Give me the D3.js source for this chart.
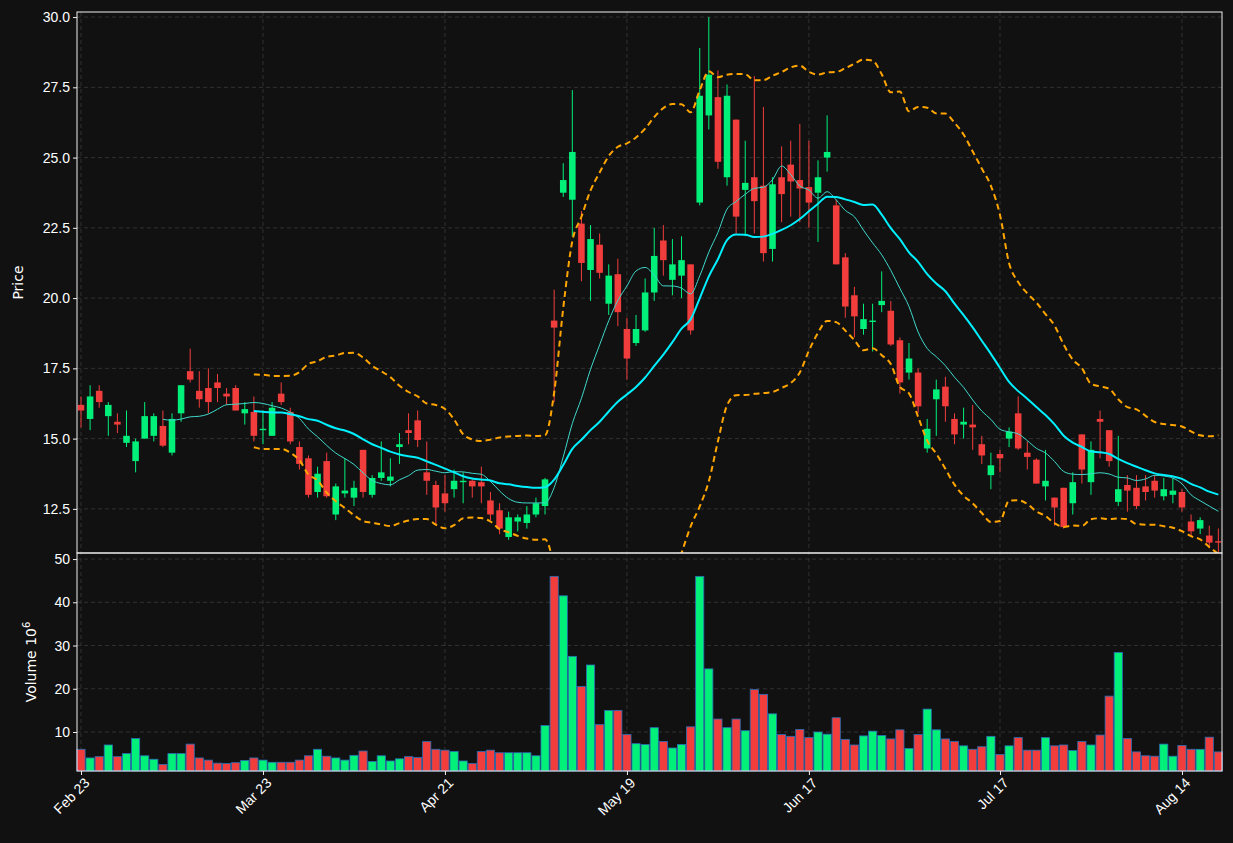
<!DOCTYPE html>
<html><head><meta charset="utf-8">
<script src="https://cdn.jsdelivr.net/npm/d3@7"></script>
<style>body{margin:0;background:#111111;}svg{font-family:"DejaVu Sans",sans-serif;}</style>
</head><body><div id="chart"></div>
<script>
// OHLC, one entry per trading day
const opens=[16.2,15.7,16.7,15.8,15.6,14.85,14.2,15.0,15.1,15.45,14.5,15.9,17.4,16.7,16.8,17.0,16.6,16.8,15.9,15.95,
 15.3,15.1,16.6,15.95,14.7,14.3,13.1,14.2,12.3,13.05,12.9,14.6,13.0,13.6,13.5,14.7,15.3,15.65,13.8,13.35,
 13.05,13.2,13.45,13.5,13.45,12.8,12.45,11.5,12.05,12.0,12.3,12.6,19.2,23.75,23.5,22.65,21.0,21.9,19.8,20.85,
 18.9,18.4,18.85,20.2,22.05,20.65,20.8,21.2,23.4,26.5,27.15,24.3,26.35,23.85,24.3,24.0,21.75,24.3,24.75,24.2,
 23.95,23.75,25.0,23.3,21.45,20.1,18.9,19.15,19.75,19.55,18.5,17.35,17.35,14.65,16.4,16.85,15.7,15.5,15.5,14.8,
 13.7,14.45,15.0,15.9,14.5,14.25,13.3,12.9,13.25,12.7,15.15,13.45,15.7,15.3,12.75,13.35,13.25,13.3,13.5,12.95,
 13.0,13.1,12.05,11.8,11.55,11.35];
const highs=[16.5,16.9,16.9,16.3,15.9,16.0,15.0,16.3,15.9,16.0,15.9,16.9,18.2,17.4,17.5,17.3,16.8,16.9,16.3,16.5,
 16.0,16.3,17.0,16.1,14.9,14.4,14.0,14.5,13.4,14.3,13.5,14.6,13.7,14.9,14.3,15.2,15.9,16.0,14.9,13.5,
 13.7,13.9,13.8,13.6,14.0,13.1,12.7,12.4,12.3,12.6,12.9,13.6,20.3,24.8,27.4,23.1,22.6,22.3,21.2,21.4,
 19.3,19.4,20.7,22.5,22.6,22.1,22.2,21.2,28.9,30.0,28.1,27.6,26.35,25.6,27.9,26.8,24.3,25.4,25.6,26.2,
 25.6,24.9,26.5,23.5,21.6,20.4,19.8,19.8,20.95,19.9,18.6,18.4,17.5,15.7,17.1,17.2,15.9,16.1,16.2,15.1,
 14.5,14.6,15.4,16.5,14.9,14.3,14.6,12.9,13.25,13.8,15.15,14.9,16.0,15.3,15.1,13.7,13.7,13.7,13.7,13.6,
 13.6,13.2,12.3,12.2,11.9,11.8];
const lows=[15.4,15.3,16.1,15.1,15.2,14.7,13.8,15.0,14.9,14.7,14.4,15.6,17.0,16.1,15.9,16.3,16.2,16.0,15.5,14.9,
 14.8,15.1,16.2,14.8,13.9,12.9,12.9,12.9,12.1,12.9,12.6,12.9,12.9,13.5,13.3,14.1,14.8,14.7,13.0,11.9,
 12.4,12.9,12.7,12.9,12.7,12.1,11.6,11.4,11.7,11.8,12.2,12.3,16.3,23.6,22.2,20.6,19.9,20.7,19.4,19.0,
 17.1,18.3,18.8,19.9,20.8,20.1,20.0,18.7,23.3,26.0,24.6,24.0,22.3,22.2,22.3,21.3,21.3,22.7,22.9,22.7,
 22.5,22.0,24.5,21.2,19.3,18.6,18.7,18.1,19.5,18.3,16.6,17.1,15.9,14.5,15.1,15.6,14.8,15.0,14.6,14.1,
 13.2,13.8,14.7,14.6,13.9,13.4,12.8,11.9,11.8,12.3,13.4,13.0,14.3,14.0,12.6,12.4,12.5,12.8,12.9,12.8,
 12.7,12.4,11.5,11.6,11.1,10.9];
const closes=[16.0,16.5,16.3,16.2,15.5,15.1,14.9,15.8,15.8,14.75,15.7,16.9,17.1,16.4,16.3,16.8,16.5,16.0,16.05,15.1,
 15.35,16.1,16.3,14.9,14.1,13.0,13.75,12.95,13.3,13.15,13.25,13.1,13.6,13.8,13.65,14.8,15.2,14.95,13.5,12.55,
 12.7,13.5,13.5,13.3,13.3,12.3,11.8,12.2,12.2,12.3,12.7,13.55,18.95,24.2,25.2,21.25,22.1,20.9,20.8,19.5,
 17.85,18.9,20.2,21.5,21.35,21.2,21.35,18.85,27.2,27.95,24.85,27.2,22.9,24.1,23.45,21.6,24.05,23.7,24.15,23.9,
 23.4,24.3,25.2,21.2,19.7,19.35,19.25,19.2,19.9,18.35,17.0,17.85,16.15,15.35,16.75,16.15,15.15,15.6,15.4,14.4,
 14.05,14.3,15.25,14.65,14.35,13.4,13.5,12.55,11.85,13.45,13.9,14.6,15.6,14.2,13.2,13.15,12.6,13.1,13.15,13.2,
 13.15,12.55,11.7,12.1,11.3,11.3];
const volumes=[6,4,4.3,7,4.3,5,8.5,4.5,3.7,2.5,5,5,7.2,4,3.5,2.8,2.7,2.9,3.4,4,
 3.5,3,3,3,3.5,4.5,6,4.4,4,3.5,4.6,5.6,3.2,4.5,3.3,3.8,4.3,4.1,7.8,6,
 5.8,5.5,3.3,2.7,5.5,5.8,5.2,5.2,5.2,5.2,4.5,11.5,46,41.5,27.5,20.5,25.5,11.7,15,15,
 9.4,7.3,7.1,11,7.8,6.3,7.1,11.2,46,24.6,13,11,13,10.3,19.8,18.7,14.2,9.4,9.0,10.6,
 8.7,10,9.5,13.3,8.3,7,9.1,10.2,9.2,8.4,10.5,6.2,9.4,15.3,10.5,8.4,7.8,6.8,6,6.6,
 9,4.8,6.8,8.7,5.8,5.8,8.7,6.8,7,5.7,7.8,7,9.3,18.3,28.4,8.5,5.4,4.5,4.4,7.2,
 4.4,6.9,6,6,8.8,5.4];
const tickIndex=[0,20,40,60,80,101,121];
const tickLabels=["Feb 23","Mar 23","Apr 21","May 19","Jun 17","Jul 17","Aug 14"];
const priceTicks=[12.5,15,17.5,20,22.5,25,27.5,30];
const volumeTicks=[10,20,30,40,50];

const W=1233,H=843,L=77,R=1222,T=12,MID=553,B=771;
const UP="#00f07a",DOWN="#f23d3d";
const svg=d3.select("#chart").append("svg").attr("width",W).attr("height",H);
svg.append("rect").attr("width",W).attr("height",H).attr("fill","#111111");

const data=opens.map((o,i)=>({i,o,h:highs[i],l:lows[i],c:closes[i],v:volumes[i]}));
const x=d3.scaleLinear().domain([-0.44,125.4]).range([L,R]);
const y=d3.scaleLinear().domain([10.93,30.18]).range([MID,T]);
const yv=d3.scaleLinear().domain([0.98,51.4]).range([B,MID]);
const step=x(1)-x(0);

function rolling(n){
    return closes.map((c,i)=>{
        if(i<n-1) return null;
        const w=closes.slice(i-n+1,i+1);
        const m=d3.mean(w), sd=Math.sqrt(d3.mean(w,v=>(v-m)*(v-m)));
        return {i,m,up:m+2*sd,lo:m-2*sd};
    }).filter(d=>d);
}

svg.append("clipPath").attr("id","pc").append("rect").attr("x",L).attr("y",T).attr("width",R-L).attr("height",MID-T);

// grid
const grid=svg.append("g").attr("stroke","#3a3a3a").attr("stroke-dasharray","4,3").attr("stroke-width",0.8);
tickIndex.forEach(t=>grid.append("line").attr("x1",x(t)).attr("x2",x(t)).attr("y1",T).attr("y2",B));
priceTicks.forEach(p=>grid.append("line").attr("x1",L).attr("x2",R).attr("y1",y(p)).attr("y2",y(p)));
volumeTicks.forEach(p=>grid.append("line").attr("x1",L).attr("x2",R).attr("y1",yv(p)).attr("y2",yv(p)));

const pg=svg.append("g").attr("clip-path","url(#pc)");
// candles
const cg=pg.selectAll("g.c").data(data).enter().append("g");
cg.append("line").attr("x1",d=>x(d.i)).attr("x2",d=>x(d.i)).attr("y1",d=>y(d.h)).attr("y2",d=>y(d.l))
  .attr("stroke",d=>d.c>=d.o?UP:DOWN).attr("stroke-width",1);
cg.append("rect").attr("x",d=>x(d.i)-step*0.36).attr("width",step*0.72)
  .attr("y",d=>y(Math.max(d.o,d.c))).attr("height",d=>Math.max(1,Math.abs(y(d.o)-y(d.c))))
  .attr("fill",d=>d.c>=d.o?UP:DOWN);

// moving averages and bands
const ma10=rolling(10), bb=rolling(20);
const ln=(f)=>d3.line().x(d=>x(d.i)).y(f).curve(d3.curveMonotoneX);
pg.append("path").datum(ma10).attr("d",ln(d=>y(d.m))).attr("fill","none").attr("stroke","#3fd9cc").attr("stroke-width",1);
pg.append("path").datum(bb).attr("d",ln(d=>y(d.m))).attr("fill","none").attr("stroke","#00f0ff").attr("stroke-width",2);
["up","lo"].forEach(k=>pg.append("path").datum(bb).attr("d",ln(d=>y(d[k]))).attr("fill","none")
  .attr("stroke","#ffa500").attr("stroke-width",2).attr("stroke-dasharray","6,4"));

// volume
svg.append("g").selectAll("rect").data(data).enter().append("rect")
  .attr("x",d=>x(d.i)-step*0.45).attr("width",step*0.9)
  .attr("y",d=>yv(d.v)).attr("height",d=>yv(0.98)-yv(d.v))
  .attr("fill",d=>d.c>=d.o?UP:DOWN).attr("stroke","#2a6fb8").attr("stroke-width",0.8);

// frames
svg.append("rect").attr("x",L).attr("y",T).attr("width",R-L).attr("height",MID-T).attr("fill","none").attr("stroke","#f0f0f0");
svg.append("rect").attr("x",L).attr("y",MID).attr("width",R-L).attr("height",B-MID).attr("fill","none").attr("stroke","#f0f0f0");

// axes
function style(g){g.select(".domain").remove();g.selectAll("line").attr("stroke","#f0f0f0");g.selectAll("text").attr("fill","#ffffff").attr("font-size",14);}
svg.append("g").attr("transform",`translate(${L},0)`).call(d3.axisLeft(y).tickValues(priceTicks).tickFormat(d3.format(".1f")).tickSize(4)).call(style);
svg.append("g").attr("transform",`translate(${L},0)`).call(d3.axisLeft(yv).tickValues(volumeTicks).tickSize(4)).call(style);
const xa=svg.append("g").attr("transform",`translate(0,${B})`).call(d3.axisBottom(x).tickValues(tickIndex).tickFormat((d,k)=>tickLabels[k]).tickSize(4)).call(style);
xa.selectAll("text").attr("text-anchor","end").attr("dx","-0.2em").attr("dy","0.6em").attr("transform","rotate(-45)");

svg.append("text").attr("transform",`translate(23,${(T+MID)/2}) rotate(-90)`).attr("text-anchor","middle")
  .attr("fill","#fff").attr("font-size",14).text("Price");
const vl=svg.append("text").attr("transform",`translate(36,${(MID+B)/2}) rotate(-90)`).attr("text-anchor","middle")
  .attr("fill","#fff").attr("font-size",14);
vl.append("tspan").text("Volume  10");
vl.append("tspan").attr("font-size",10).attr("dy",-6).text("6");
</script></body></html>
